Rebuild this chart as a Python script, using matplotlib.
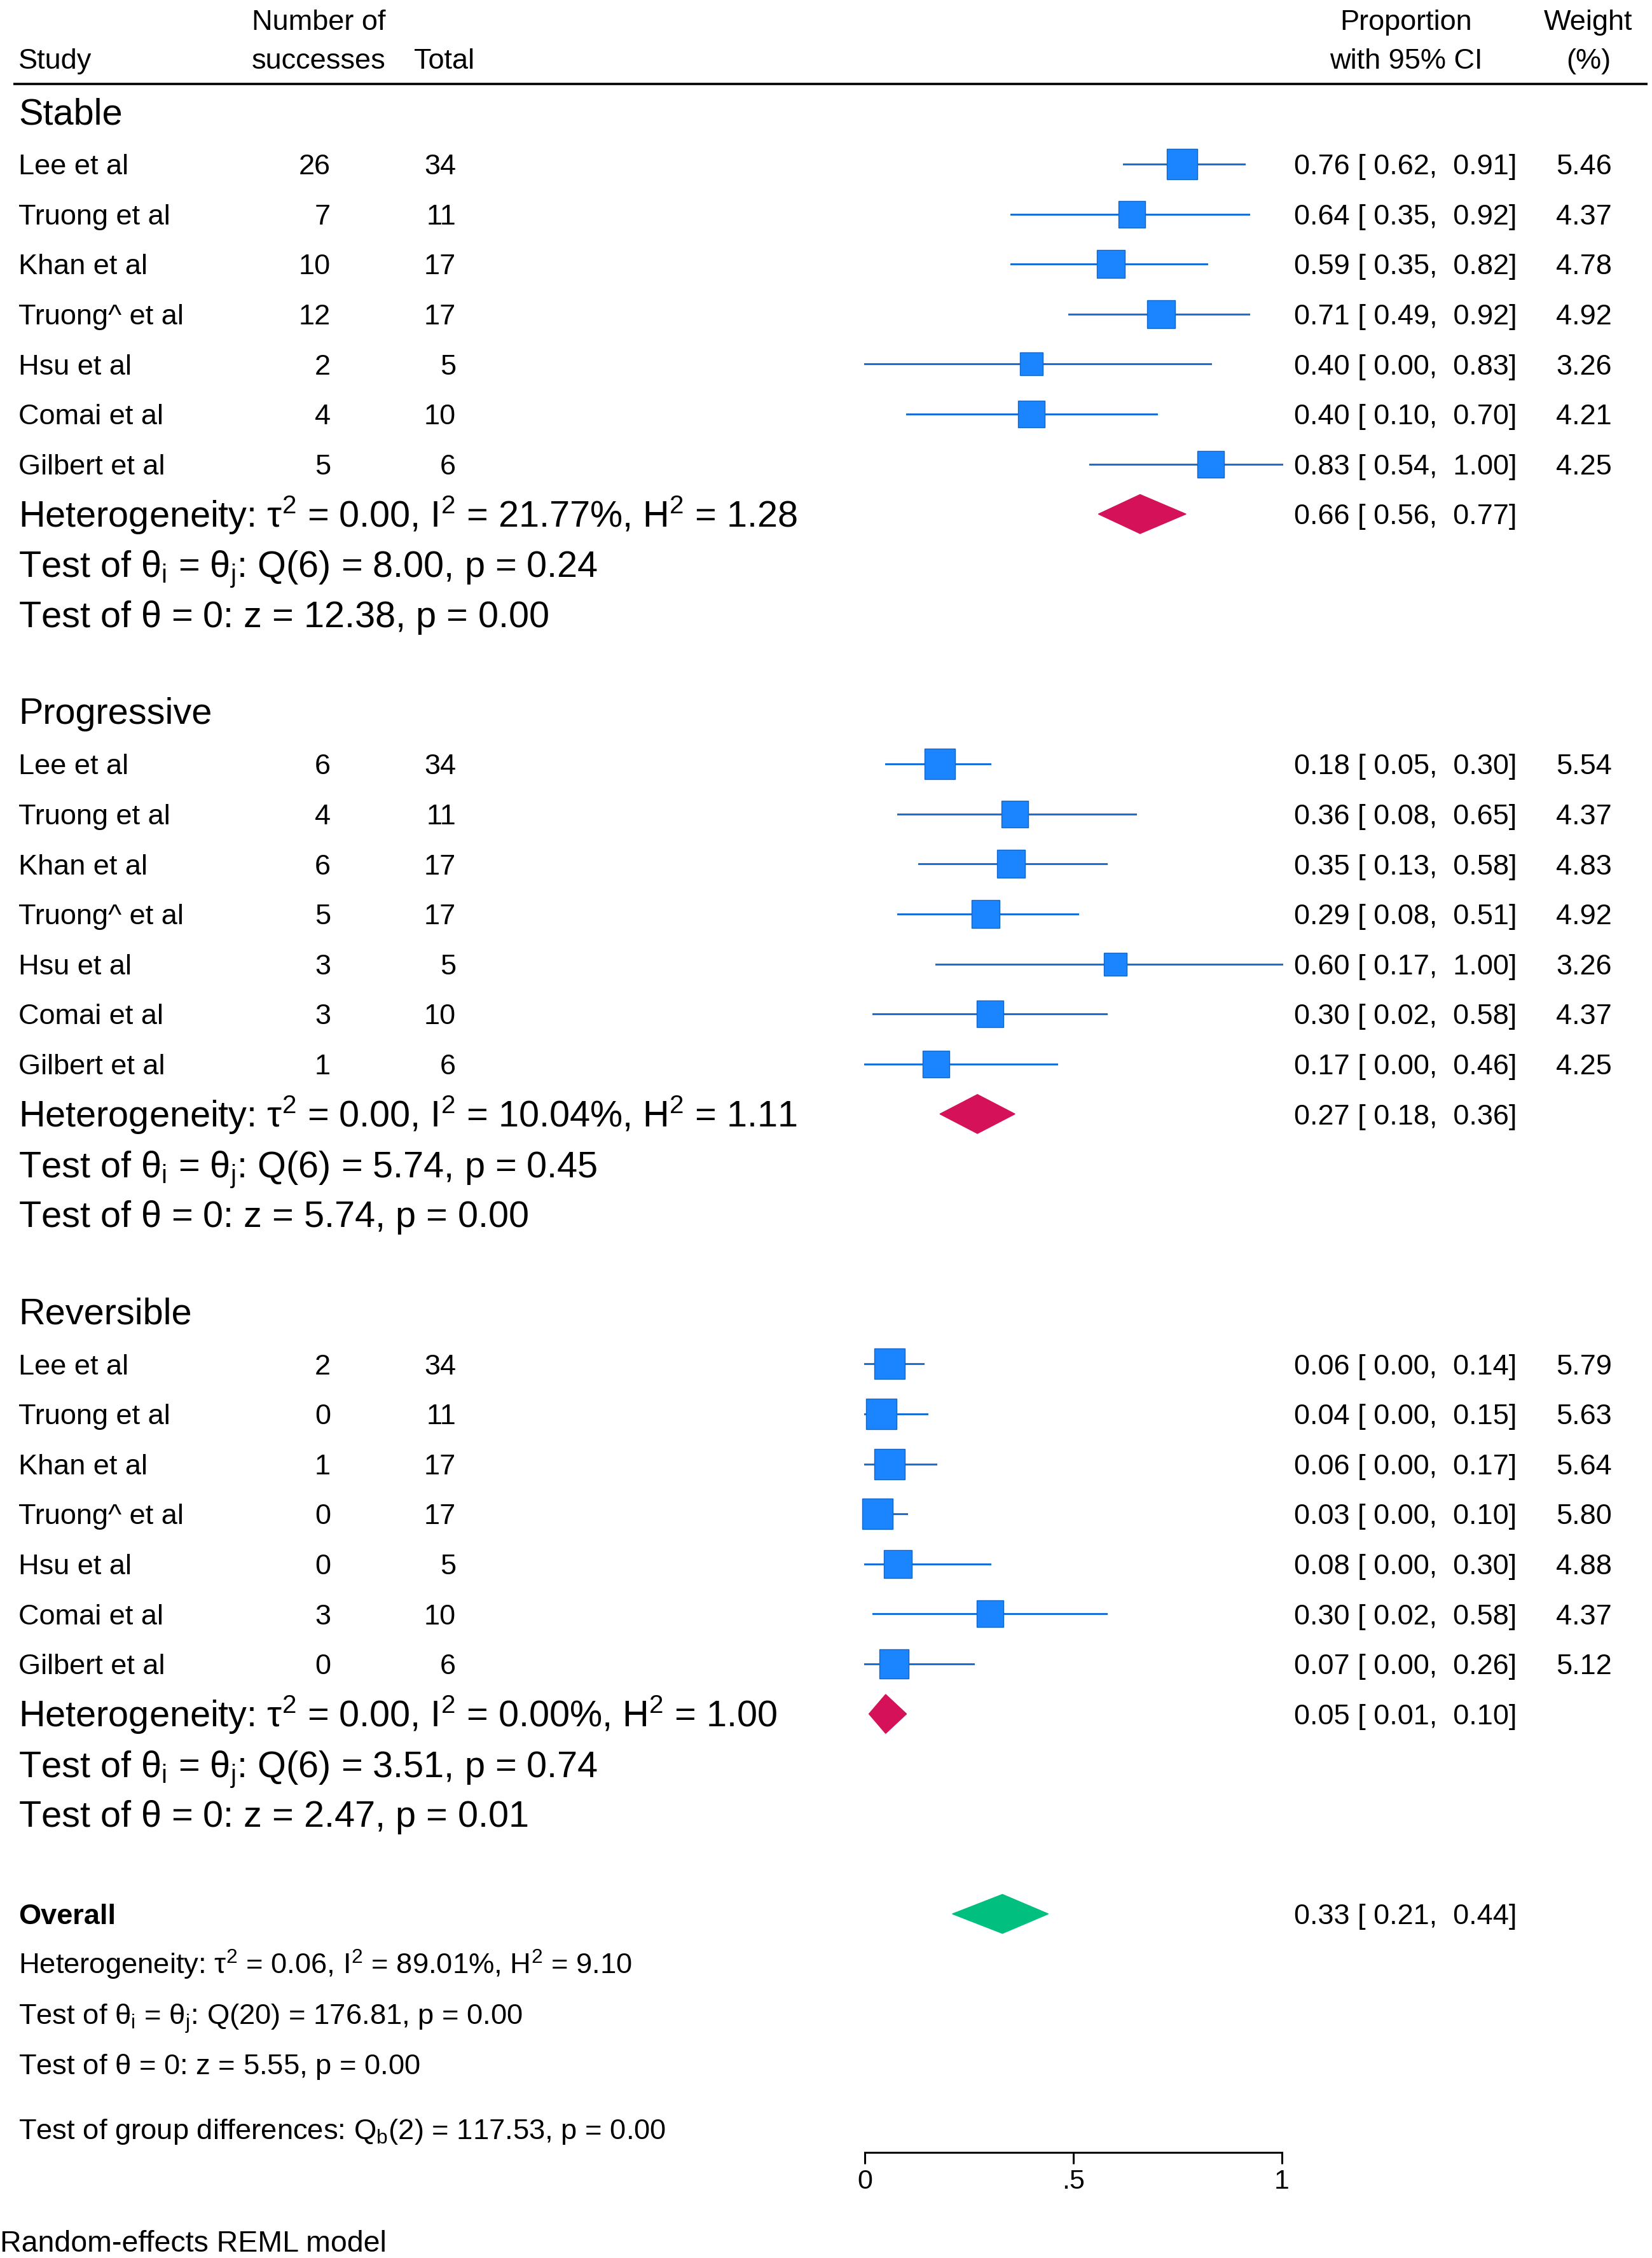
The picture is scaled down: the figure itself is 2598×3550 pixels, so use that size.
import numpy as np
import matplotlib
matplotlib.use("Agg")
import matplotlib.pyplot as plt
from matplotlib.transforms import blended_transform_factory

plt.rcParams['font.family'] = ['Liberation Sans', 'DejaVu Sans']
plt.rcParams['mathtext.fontset'] = 'custom'
plt.rcParams['mathtext.rm'] = 'Liberation Sans'
plt.rcParams['mathtext.it'] = 'Liberation Sans:italic'
plt.rcParams['mathtext.bf'] = 'Liberation Sans:bold'
plt.rcParams['mathtext.default'] = 'regular'

# data
studies = ["Lee et al", "Truong et al", "Khan et al", "Truong^ et al",
           "Hsu et al", "Comai et al", "Gilbert et al"]
totals = [34, 11, 17, 17, 5, 10, 6]

groups = ["Stable", "Progressive", "Reversible"]
successes = [[26, 7, 10, 12, 2, 4, 5],
             [6, 4, 6, 5, 3, 3, 1],
             [2, 0, 1, 0, 0, 3, 0]]
est = [[0.76, 0.64, 0.59, 0.71, 0.40, 0.40, 0.83],
       [0.18, 0.36, 0.35, 0.29, 0.60, 0.30, 0.17],
       [0.06, 0.04, 0.06, 0.03, 0.08, 0.30, 0.07]]
lo = [[0.62, 0.35, 0.35, 0.49, 0.00, 0.10, 0.54],
      [0.05, 0.08, 0.13, 0.08, 0.17, 0.02, 0.00],
      [0.00, 0.00, 0.00, 0.00, 0.00, 0.02, 0.00]]
hi = [[0.91, 0.92, 0.82, 0.92, 0.83, 0.70, 1.00],
      [0.30, 0.65, 0.58, 0.51, 1.00, 0.58, 0.46],
      [0.14, 0.15, 0.17, 0.10, 0.30, 0.58, 0.26]]
weights = [[5.46, 4.37, 4.78, 4.92, 3.26, 4.21, 4.25],
           [5.54, 4.37, 4.83, 4.92, 3.26, 4.37, 4.25],
           [5.79, 5.63, 5.64, 5.80, 4.88, 4.37, 5.12]]

pooled_est = [0.66, 0.27, 0.05]
pooled_lo = [0.56, 0.18, 0.01]
pooled_hi = [0.77, 0.36, 0.10]
group_stats = [
    ["Heterogeneity: $\\tau^2$ = 0.00, $I^2$ = 21.77%, $H^2$ = 1.28",
     "Test of $\\theta_i$ = $\\theta_j$: Q(6) = 8.00, p = 0.24",
     "Test of $\\theta$ = 0: z = 12.38, p = 0.00"],
    ["Heterogeneity: $\\tau^2$ = 0.00, $I^2$ = 10.04%, $H^2$ = 1.11",
     "Test of $\\theta_i$ = $\\theta_j$: Q(6) = 5.74, p = 0.45",
     "Test of $\\theta$ = 0: z = 5.74, p = 0.00"],
    ["Heterogeneity: $\\tau^2$ = 0.00, $I^2$ = 0.00%, $H^2$ = 1.00",
     "Test of $\\theta_i$ = $\\theta_j$: Q(6) = 3.51, p = 0.74",
     "Test of $\\theta$ = 0: z = 2.47, p = 0.01"],
]

overall_est, overall_lo, overall_hi = 0.33, 0.21, 0.44
overall_stats = ["Heterogeneity: $\\tau^2$ = 0.06, $I^2$ = 89.01%, $H^2$ = 9.10",
                 "Test of $\\theta_i$ = $\\theta_j$: Q(20) = 176.81, p = 0.00",
                 "Test of $\\theta$ = 0: z = 5.55, p = 0.00"]
group_diff = "Test of group differences: $Q_b$(2) = 117.53, p = 0.00"

xticks = [0, 0.5, 1]
xticklabels = ["0", ".5", "1"]

sq_color = "#1a85ff"
sq_edge = "#1566c4"
ci_color = "#1a6fd6"
diamond_red = "#d41159"
diamond_green = "#00bf7f"

W, H = 2598, 3550
fig = plt.figure(figsize=(W / 100, H / 100), dpi=100)
ax = fig.add_axes([1360 / W, 1 - 3384 / H, 656 / W, 3384 / H])
ax.set_facecolor('none')
ax.set_xlim(0, 1)
# rows: 1 row = 78.6 px, row 1 sits at y=258 px
ax.set_ylim((3384 - 258) / 78.6 + 1, -258 / 78.6 + 1)
for s in ['top', 'left', 'right']:
    ax.spines[s].set_visible(False)
ax.spines['bottom'].set_linewidth(2.2)
ax.set_yticks([])
ax.set_xticks(xticks)
ax.set_xticklabels(xticklabels)
ax.tick_params(axis='x', direction='out', length=13, width=2.2, pad=6, labelsize=31)

tr = blended_transform_factory(fig.transFigure, ax.transData)

def col(px):
    return px / W

fs_row = 32.5
fs_big = 41.5
fs_ov = 32.7
# baseline offsets (half cap height in rows)
off_row = 0.205
off_big = 0.262


def txt(px, r, s, fs, off, **kw):
    ax.text(col(px), r + off, s, transform=tr, fontsize=fs, va='baseline', **kw)

# header
txt(29, -1.11, "Study", fs_row, off_row)
txt(396, -1.89, "Number of", fs_row, off_row)
txt(396, -1.11, "successes", fs_row, off_row)
txt(651, -1.11, "Total", fs_row, off_row)
txt(2211, -1.89, "Proportion", fs_row, off_row, ha='center')
txt(2211, -1.11, "with 95% CI", fs_row, off_row, ha='center')
txt(2498, -1.89, "Weight", fs_row, off_row, ha='center')
txt(2498, -1.11, "(%)", fs_row, off_row, ha='center')
ax.plot([col(21), col(2591)], [-0.6, -0.6], transform=tr, color='black', lw=2.6,
        clip_on=False, solid_capstyle='butt')


def diamond(e, l, h, r, color):
    ax.fill([l, e, h, e], [r, r - 0.39, r, r + 0.39], color=color,
            ec=color, lw=1, clip_on=False, zorder=3)

for g, name in enumerate(groups):
    base = g * 12
    txt(29, base - 0.06, name, fs_big, off_big)
    for i, study in enumerate(studies):
        r = base + 1 + i
        ax.plot([lo[g][i], hi[g][i]], [r, r], color=ci_color, lw=2.2, clip_on=False, zorder=2)
        ax.plot(est[g][i], r, marker='s', ms=14.5 * np.sqrt(weights[g][i]),
                color=sq_color, mec=sq_edge, mew=1, clip_on=False, zorder=3)
        txt(29, r, study, fs_row, off_row)
        txt(520, r, str(successes[g][i]), fs_row, off_row, ha='right')
        txt(717, r, str(totals[i]), fs_row, off_row, ha='right')
        txt(2035, r, f"{est[g][i]:.2f} [ {lo[g][i]:.2f},  {hi[g][i]:.2f}]", fs_row, off_row)
        txt(2535, r, f"{weights[g][i]:.2f}", fs_row, off_row, ha='right')
    r = base + 8
    diamond(pooled_est[g], pooled_lo[g], pooled_hi[g], r, diamond_red)
    txt(2035, r, f"{pooled_est[g]:.2f} [ {pooled_lo[g]:.2f},  {pooled_hi[g]:.2f}]",
        fs_row, off_row)
    for j, line in enumerate(group_stats[g]):
        txt(29, r + j, line, fs_big, off_big)

# overall
r = 36
diamond(overall_est, overall_lo, overall_hi, r, diamond_green)
txt(29, r, "Overall", fs_row, off_row, fontweight='bold')
txt(2035, r, f"{overall_est:.2f} [ {overall_lo:.2f},  {overall_hi:.2f}]", fs_row, off_row)
for j, line in enumerate(overall_stats):
    txt(29, r + 1 + j, line, fs_ov, off_row)
txt(29, 40.3, group_diff, fs_ov, off_row)

fig.text(0.0, 1 - 3528 / H, "Random-effects REML model", fontsize=33.5, va='center')

fig.savefig("out.png", dpi=100, facecolor='white')
